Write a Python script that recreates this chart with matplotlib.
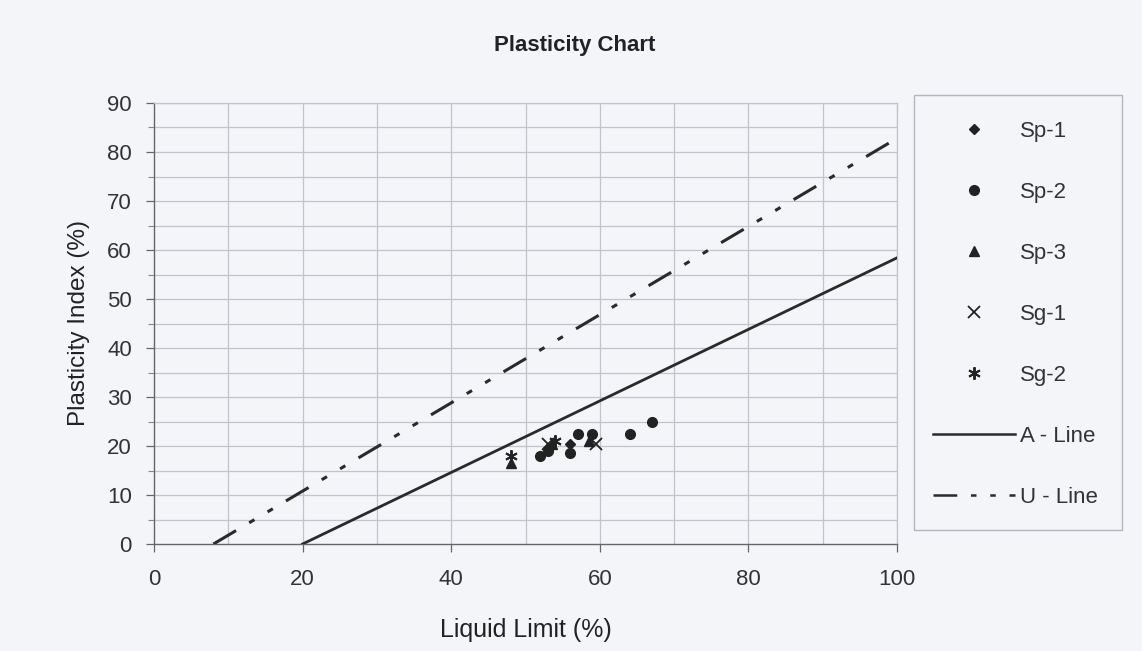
import numpy as np
import matplotlib
matplotlib.use("Agg")
import matplotlib.pyplot as plt
from matplotlib.lines import Line2D
from matplotlib.patches import Rectangle

plt.rcParams['font.family'] = ['Liberation Sans', 'DejaVu Sans']

# Sample results: liquid limit (%) and plasticity index (%)
sp1_ll = [53.0, 56.0]
sp1_pi = [19.5, 20.5]
sp2_ll = [52.0, 53.0, 56.0, 57.0, 59.0, 64.0, 67.0]
sp2_pi = [18.0, 19.0, 18.5, 22.5, 22.5, 22.5, 25.0]
sp3_ll = [48.0, 53.5, 58.5]
sp3_pi = [16.5, 20.5, 21.0]
sg1_ll = [53.0, 59.5]
sg1_pi = [20.5, 20.5]
sg2_ll = [48.0, 54.0]
sg2_pi = [18.0, 21.0]

# Casagrande reference lines
a_line_ll = [20.0, 100.0]
u_line_ll = [8.0, 100.0]

x_ticks = [0, 20, 40, 60, 80, 100]
y_ticks = [0, 10, 20, 30, 40, 50, 60, 70, 80, 90]

W, H = 1142, 651
bg = '#f4f5f9'
ink = '#2a2a2a'
fig = plt.figure(figsize=(W / 100, H / 100), dpi=100, facecolor=bg)
ax = fig.add_axes([154 / W, 1 - 544 / H, (897 - 154) / W, (544 - 103) / H])
ax.set_facecolor(bg)

ax.set_xlim(0, 100)
ax.set_ylim(0, 90)

# Grid: every 10 on liquid limit, every 5 on plasticity index
grid_c = '#c2c4cb'
for gx in np.arange(10, 101, 10):
    ax.axvline(gx, color=grid_c, lw=0.9, zorder=0)
for gy in np.arange(5, 91, 5):
    ax.axhline(gy, color=grid_c, lw=0.9, zorder=0)

u_dash = (8.6, 5.0, 2.0, 5.0, 2.0, 5.0)
a_pi = [0.73 * (v - 20) for v in a_line_ll]
u_pi = [0.9 * (v - 8) for v in u_line_ll]
ax.plot(a_line_ll, a_pi, color=ink, lw=2.0, zorder=3)
ax.plot(u_line_ll, u_pi, color=ink, lw=2.2, zorder=3, dashes=u_dash)

mk = dict(color='#222222', linestyle='none', zorder=4)
sty = {
    'Sp-1': dict(marker='D', markersize=5.5),
    'Sp-2': dict(marker='o', markersize=7),
    'Sp-3': dict(marker='^', markersize=7.5),
    'Sg-1': dict(marker='x', markersize=8, markeredgewidth=1.3),
    'Sg-2': dict(marker=(6, 2, 0), markersize=9, markeredgewidth=1.4),
}
ax.plot(sp1_ll, sp1_pi, **sty['Sp-1'], **mk)
ax.plot(sp2_ll, sp2_pi, **sty['Sp-2'], **mk)
ax.plot(sp3_ll, sp3_pi, **sty['Sp-3'], **mk)
ax.plot(sg1_ll, sg1_pi, **sty['Sg-1'], **mk)
ax.plot(sg2_ll, sg2_pi, **sty['Sg-2'], **mk)

for s in ['top', 'right']:
    ax.spines[s].set_color(grid_c)
    ax.spines[s].set_linewidth(0.9)
for s in ['left', 'bottom']:
    ax.spines[s].set_color('#666666')
    ax.spines[s].set_linewidth(1.0)

ax.set_xticks(x_ticks)
ax.set_yticks(y_ticks)
ax.set_yticks(np.arange(5, 90, 10), minor=True)
ax.tick_params(axis='both', which='major', direction='out', length=6,
               width=0.9, color='#666666', labelsize=16, labelcolor='#333333')
ax.tick_params(axis='y', which='minor', direction='out', length=4,
               width=0.8, color='#888888')
ax.tick_params(axis='x', pad=12)
ax.tick_params(axis='y', pad=10)

ax.set_xlabel('Liquid Limit (%)', fontsize=18, color='#222222', labelpad=20)
ax.set_ylabel('Plasticity Index (%)', fontsize=17.5, color='#222222', labelpad=12)

fig.text(575 / W, 1 - 45 / H, 'Plasticity Chart', ha='center', va='center',
         fontsize=16, fontweight='bold', color='#222222')

# Legend panel frame, drawn beneath the legend entries
fig.patches.append(Rectangle((914 / W, 1 - 530 / H), (1122 - 914) / W, (530 - 95) / H,
                             transform=fig.transFigure, facecolor='none',
                             edgecolor='#b4b6bd', lw=1.0, zorder=-1))
handles = [Line2D([], [], **sty[k], **mk) for k in ['Sp-1', 'Sp-2', 'Sp-3', 'Sg-1', 'Sg-2']]
handles += [Line2D([], [], color=ink, lw=1.8),
            Line2D([], [], color=ink, lw=1.8, dashes=(9.5, 5.5, 2.2, 5.5, 2.2, 5.5))]
labels = ['Sp-1', 'Sp-2', 'Sp-3', 'Sg-1', 'Sg-2', 'A - Line', 'U - Line']
leg = ax.legend(handles, labels, loc='upper left',
                bbox_to_anchor=(933 / W, 1 - 121 / H), bbox_transform=fig.transFigure,
                fontsize=16, frameon=False, handlelength=3.7, handletextpad=0.22,
                labelspacing=1.8, borderpad=0, borderaxespad=0)
for t in leg.get_texts():
    t.set_color('#333333')

fig.savefig('out.png', dpi=100, facecolor=bg)
